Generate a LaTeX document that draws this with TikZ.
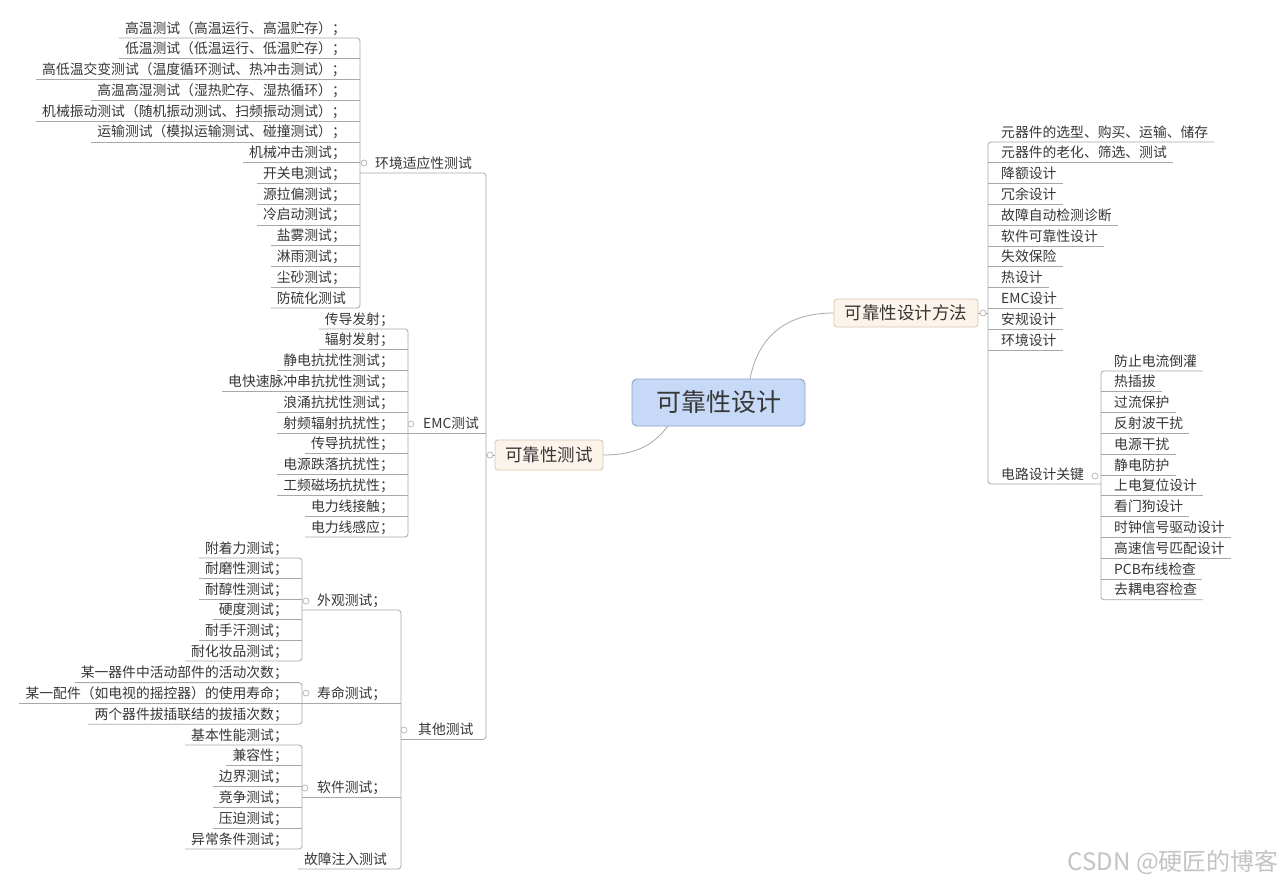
\documentclass[tikz,border=0pt]{standalone}
\usepackage{fontspec}
\setmainfont{Noto Sans CJK SC}
\definecolor{lncol}{HTML}{A8A8A8}
\definecolor{txt}{HTML}{363636}
\definecolor{dotcol}{HTML}{B4B4B4}
\definecolor{rootfill}{HTML}{C6DAF7}
\definecolor{rootdraw}{HTML}{8CA4CA}
\definecolor{subfill}{HTML}{FCF3EA}
\definecolor{subdraw}{HTML}{D8C6B4}
\definecolor{wm}{HTML}{C4C4C4}
\tikzset{
  ln/.style={draw=lncol, line width=0.8pt},
  trunk/.style={draw=lncol, line width=0.8pt, rounded corners=3pt},
  fnt/.style={font=\fontsize{13.8}{15}\selectfont, text=txt},
  leafL/.style={fnt, anchor=base east, inner xsep=6pt, inner ysep=1pt},
  leafR/.style={fnt, anchor=base west, inner xsep=6pt, inner ysep=1pt},
  midL/.style={fnt, anchor=base west, inner xsep=6pt, inner ysep=1pt},
  dot/.style={circle, draw=dotcol, fill=white, line width=0.7pt, inner sep=0pt, minimum size=6pt},
  rootbox/.style={draw=rootdraw, fill=rootfill, line width=0.9pt, rounded corners=5pt,
    minimum width=173pt, minimum height=47pt, inner sep=0pt, text=txt,
    font=\fontsize{25}{30}\selectfont},
  subbox/.style={draw=subdraw, fill=subfill, line width=0.8pt, rounded corners=3pt,
    inner sep=0pt, text=txt, font=\fontsize{17.5}{20}\selectfont},
}
% left leaf: name, trunk x, underline y, text
\newcommand\lleaf[4]{\node[leafL] (#1) at ({#2-8},{#3-5}) {#4};}
\newcommand\lleafu[4]{\node[leafL] (#1) at ({#2-8},{#3-5}) {#4};
  \draw[ln] (#1.west |- 0,#3) -- (#2,#3);}
% right leaf
\newcommand\rleaf[4]{\node[leafR] (#1) at ({#2+7},{#3-5}) {#4};}
\newcommand\rleafu[4]{\node[leafR] (#1) at ({#2+7},{#3-5}) {#4};
  \draw[ln] (#2,#3) -- (#1.east |- 0,#3);}
\begin{document}
\begin{tikzpicture}[x=1pt,y=-1pt]
\useasboundingbox[fill=white] (0,0) rectangle (1282,886);

% ---------- central boxes ----------
\node[rootbox] (root) at (718.5,402.5) {可靠性设计};
\node[subbox, minimum width=144pt, minimum height=28pt] (meth) at (906,313) {可靠性设计方法};
\node[subbox, minimum width=108pt, minimum height=30pt] (rt) at (549,455) {可靠性测试};

\coordinate (rootA) at (750,379);
\coordinate (rootB) at (668,426);
\draw[ln] (rootA) .. controls +(8,-42) and +(-48,0) .. (meth.west);
\draw[ln] (rootB) .. controls +(-14,18) and +(34,0) .. (rt.east);

% ---------- group: 环境适应性测试 ----------
\lleaf{a0}{360}{38}{高温测试（高温运行、高温贮存）；}
\lleafu{a1}{360}{58.8}{低温测试（低温运行、低温贮存）；}
\lleafu{a2}{360}{79.5}{高低温交变测试（温度循环测试、热冲击测试）；}
\lleafu{a3}{360}{100.3}{高温高湿测试（湿热贮存、湿热循环）；}
\lleafu{a4}{360}{121.1}{机械振动测试（随机振动测试、扫频振动测试）；}
\lleafu{a5}{360}{141.9}{运输测试（模拟运输测试、碰撞测试）；}
\lleafu{a6}{360}{162.6}{机械冲击测试；}
\lleafu{a7}{360}{183.4}{开关电测试；}
\lleafu{a8}{360}{204.2}{源拉偏测试；}
\lleafu{a9}{360}{224.9}{冷启动测试；}
\lleafu{a10}{360}{245.7}{盐雾测试；}
\lleafu{a11}{360}{266.5}{淋雨测试；}
\lleafu{a12}{360}{287.2}{尘砂测试；}
\lleaf{a13}{360}{308}{防硫化测试}
\draw[trunk] (a0.west |- 0,38) -- (360,38) -- (360,308) -- (a13.west |- 0,308);

% ---------- group: EMC测试 ----------
\lleaf{e0}{408}{329}{传导发射；}
\lleafu{e1}{408}{349.8}{辐射发射；}
\lleafu{e2}{408}{370.6}{静电抗扰性测试；}
\lleafu{e3}{408}{391.4}{电快速脉冲串抗扰性测试；}
\lleafu{e4}{408}{412.2}{浪涌抗扰性测试；}
\lleafu{e5}{408}{433}{射频辐射抗扰性；}
\lleafu{e6}{408}{453.8}{传导抗扰性；}
\lleafu{e7}{408}{474.6}{电源跌落抗扰性；}
\lleafu{e8}{408}{495.4}{工频磁场抗扰性；}
\lleafu{e9}{408}{516.2}{电力线接触；}
\lleaf{e10}{408}{537}{电力线感应；}
\draw[trunk] (e0.west |- 0,329) -- (408,329) -- (408,537) -- (e10.west |- 0,537);

% ---------- group: 外观测试 ----------
\lleaf{w0}{302}{558}{附着力测试；}
\lleafu{w1}{302}{578.6}{耐磨性测试；}
\lleafu{w2}{302}{599.2}{耐醇性测试；}
\lleafu{w3}{302}{619.8}{硬度测试；}
\lleafu{w4}{302}{640.4}{耐手汗测试；}
\lleaf{w5}{302}{661}{耐化妆品测试；}
\draw[trunk] (w0.west |- 0,558) -- (302,558) -- (302,661) -- (w5.west |- 0,661);

% ---------- group: 寿命测试 ----------
\lleaf{s0}{302}{682.6}{某一器件中活动部件的活动次数；}
\lleafu{s1}{302}{703.4}{某一配件（如电视的摇控器）的使用寿命；}
\lleaf{s2}{302}{724.2}{两个器件拔插联结的拔插次数；}
\draw[trunk] (s0.west |- 0,682.6) -- (302,682.6) -- (302,724.2) -- (s2.west |- 0,724.2);

% ---------- group: 软件测试 ----------
\lleaf{k0}{302}{745}{基本性能测试；}
\lleafu{k1}{302}{765.8}{兼容性；}
\lleafu{k2}{302}{786.6}{边界测试；}
\lleafu{k3}{302}{807.4}{竞争测试；}
\lleafu{k4}{302}{828.2}{压迫测试；}
\lleaf{k5}{302}{849}{异常条件测试；}
\draw[trunk] (k0.west |- 0,745) -- (302,745) -- (302,849) -- (k5.west |- 0,849);

% ---------- group: 其他测试 ----------
\node[midL] (wg) at (311,605) {外观测试；};
\node[midL] (sm) at (311,698.4) {寿命测试；};
\node[midL] (rj) at (311,792) {软件测试；};
\lleaf{gz}{401}{869}{故障注入测试}
\draw[trunk] (302,610) -- (401,610) -- (401,869) -- (gz.west |- 0,869);
\draw[ln] (302,703.4) -- (401,703.4);
\draw[ln] (302,797) -- (401,797);

% ---------- group: 可靠性测试 ----------
\node[midL] (env) at (369,168) {环境适应性测试};
\node[midL] (emc) at (417,428) {EMC测试};
\node[midL] (qt) at (412,734.5) {其他测试};
\draw[trunk] (360,173) -- (486,173) -- (486,739.5) -- (401,739.5);
\draw[ln] (408,433) -- (486,433);
\draw[ln] (rt.west) -- (486,455);

% ---------- group: 可靠性设计方法 ----------
\rleaf{m0}{988}{142}{元器件的选型、购买、运输、储存}
\rleafu{m1}{988}{162.8}{元器件的老化、筛选、测试}
\rleafu{m2}{988}{183.6}{降额设计}
\rleafu{m3}{988}{204.4}{冗余设计}
\rleafu{m4}{988}{225.2}{故障自动检测诊断}
\rleafu{m5}{988}{246}{软件可靠性设计}
\rleafu{m6}{988}{266.8}{失效保险}
\rleafu{m7}{988}{287.6}{热设计}
\rleafu{m8}{988}{308.4}{EMC设计}
\rleafu{m9}{988}{329.2}{安规设计}
\rleafu{m10}{988}{350}{环境设计}
\node[leafR] (dl) at (995,479) {电路设计关键};
\draw[trunk] (m0.east |- 0,142) -- (988,142) -- (988,484) -- (1101,484);
\draw[ln] (meth.east) -- (988,313);

% ---------- group: 电路设计关键 ----------
\rleaf{c0}{1101}{371}{防止电流倒灌}
\rleafu{c1}{1101}{391.8}{热插拔}
\rleafu{c2}{1101}{412.6}{过流保护}
\rleafu{c3}{1101}{433.4}{反射波干扰}
\rleafu{c4}{1101}{454.2}{电源干扰}
\rleafu{c5}{1101}{475}{静电防护}
\rleafu{c6}{1101}{495.8}{上电复位设计}
\rleafu{c7}{1101}{516.6}{看门狗设计}
\rleafu{c8}{1101}{537.4}{时钟信号驱动设计}
\rleafu{c9}{1101}{558.2}{高速信号匹配设计}
\rleafu{c10}{1101}{579}{PCB布线检查}
\rleaf{c11}{1101}{599.8}{去耦电容检查}
\draw[trunk] (c0.east |- 0,371) -- (1101,371) -- (1101,599.8) -- (c11.east |- 0,599.8);

% ---------- collapse dots ----------
\node[dot] (d1) at (364,163) {};
\node[dot] (d2) at (411,424) {};
\node[dot] (d3) at (404,730) {};
\node[dot] (d4) at (306,601) {};
\node[dot] (d5) at (306,693) {};
\node[dot] (d6) at (305,788) {};
\node[dot] (d7) at (490,455) {};
\node[dot] (d8) at (983,313) {};
\node[dot] (d9) at (1095,476) {};

% ---------- watermark ----------
\node[anchor=east, text=wm, font=\fontsize{24}{28}\selectfont, inner sep=0pt] (wmk) at (1279,862) {CSDN @硬匠的博客};
\end{tikzpicture}
\end{document}
